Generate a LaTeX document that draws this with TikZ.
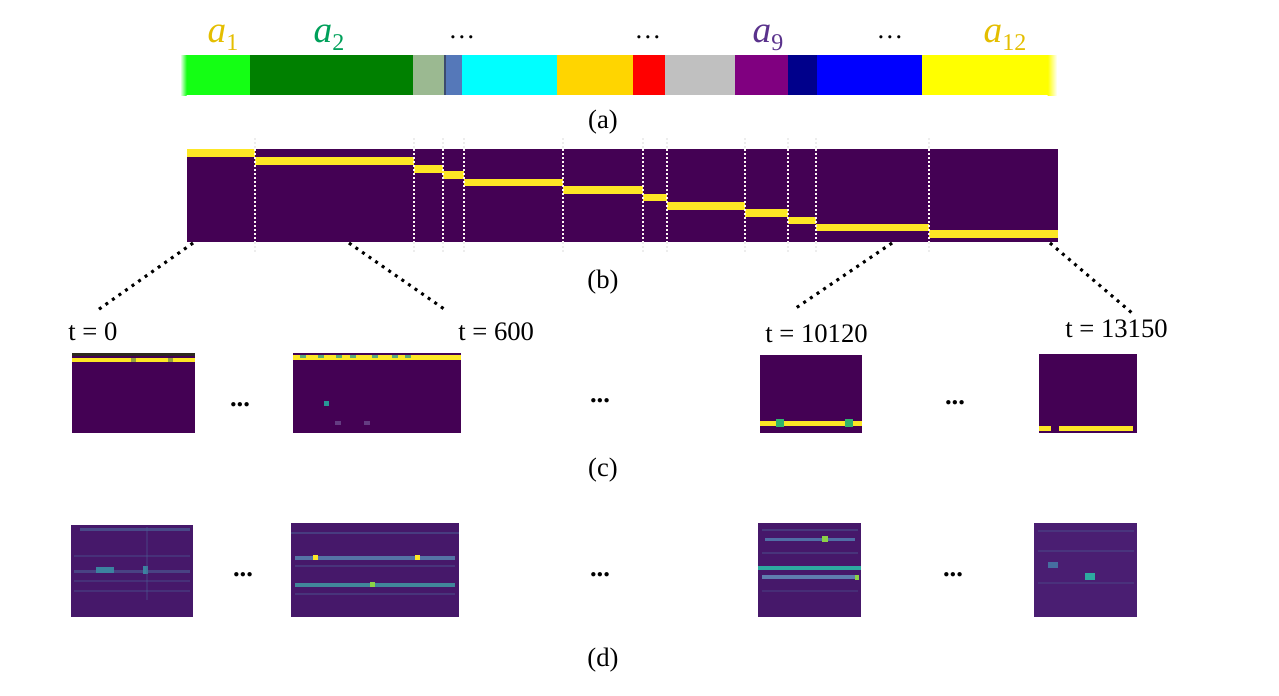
\documentclass[tikz,border=0pt]{standalone}
\usepackage{fontspec}
\setmainfont{Liberation Serif}
\definecolor{vir}{RGB}{68,1,84}
\definecolor{viry}{RGB}{253,231,37}
\definecolor{dbase}{RGB}{70,24,106}
\definecolor{dbaseb}{RGB}{74,30,114}
\definecolor{dline}{RGB}{75,95,150}
\definecolor{dcyan}{RGB}{45,170,160}
\definecolor{dgreen}{RGB}{140,210,70}
\definecolor{segA}{RGB}{20,255,20}
\definecolor{segB}{RGB}{0,128,0}
\definecolor{segC}{RGB}{155,185,145}
\definecolor{segD}{RGB}{85,120,185}
\definecolor{segE}{RGB}{0,255,255}
\definecolor{segF}{RGB}{255,213,0}
\definecolor{segG}{RGB}{255,0,0}
\definecolor{segH}{RGB}{192,192,192}
\definecolor{segI}{RGB}{128,0,128}
\definecolor{segJ}{RGB}{0,0,139}
\definecolor{segK}{RGB}{0,0,255}
\definecolor{segL}{RGB}{255,255,0}
\definecolor{segEdge}{RGB}{60,75,110}
\definecolor{laA}{RGB}{228,190,0}
\definecolor{laB}{RGB}{0,160,90}
\definecolor{laC}{RGB}{90,50,140}
\definecolor{cdark}{RGB}{45,40,30}
\definecolor{cnoise}{RGB}{150,160,60}
\definecolor{cgreen}{RGB}{90,170,120}
\definecolor{cteal}{RGB}{40,150,150}
\definecolor{cfaint}{RGB}{100,60,130}
\definecolor{cblob}{RGB}{50,180,110}
\definecolor{dblob}{RGB}{60,130,160}
\definecolor{dl1}{RGB}{85,115,165}
\definecolor{dl2}{RGB}{65,135,155}
\definecolor{dl3}{RGB}{80,110,165}
\definecolor{dl4}{RGB}{95,125,175}
\definecolor{dl5}{RGB}{70,110,160}
\newcommand{\actlab}[2]{{\itshape a}\raisebox{-0.22em}{\fontsize{18}{20}\selectfont\upshape #2}}
\begin{document}
\begin{tikzpicture}[x=0.75pt,y=-0.75pt,
  txt/.style={inner sep=0pt,font=\fontsize{20}{24}\selectfont},
  alab/.style={inner sep=0pt,anchor=base,font=\fontsize{28}{32}\selectfont},
  dots/.style={inner sep=0pt,font=\fontsize{20}{24}\selectfont\bfseries},
  conn/.style={line width=2.3pt,dash pattern=on 2.2pt off 3.8pt,black},
  sep/.style={white!85!pink,line width=1.1pt,dash pattern=on 1.5pt off 1.5pt}]
\useasboundingbox (0,0) rectangle (1279,696);

% ---------- (a) colour bar ----------
\foreach \xa/\xb/\c in {186/250/segA,250/413/segB,413/445/segC,445/462/segD,462/557/segE,557/633/segF,633/665/segG,665/735/segH,735/788/segI,788/817/segJ,817/922/segK,922/1048/segL}
  \fill[\c] (\xa,55) rectangle (\xb,95);
\shade[left color=white,right color=segA] (180,55) rectangle (186.5,95);
\shade[left color=segL,right color=white] (1047.5,55) rectangle (1057,95);
\draw[segEdge,line width=0.8pt] (445,55) -- (445,95);
\node[alab,text=laA] (a1) at (223,42) {\actlab{a}{1}};
\node[alab,text=laB] (a2) at (329,42) {\actlab{a}{2}};
\node[alab,text=laC] (a9) at (768,42) {\actlab{a}{9}};
\node[alab,text=laA] (a12) at (1005,42) {\actlab{a}{12}};
\node[txt] (ad1) at (462,37) {\ldots};
\node[txt] (ad2) at (648,37) {\ldots};
\node[txt] (ad3) at (890,37) {\ldots};
\node[txt] (la) at (603,122) {(a)};

% ---------- (b) segmentation heatmap ----------
\foreach \x in {255,414,443,464,563,643,667,745,788,816,929}
  \draw[black!7,line width=0.8pt,dash pattern=on 1.5pt off 1.5pt] (\x,138) -- (\x,252);
\fill[vir] (187,149) rectangle (1058,242);
\foreach \xa/\xb/\ya/\yb in {187/255/149/157,255/414/157/165,414/443/165/173,443/464/171/179,464/563/179/186,563/643/186/194,643/667/194/201,667/745/202/210,745/788/209/217,788/816/217/224,816/929/224/231,929/1058/230/238}
  \fill[viry] (\xa,\ya) rectangle (\xb,\yb);
\foreach \x in {255,414,443,464,563,643,667,745,788,816,929}
  \draw[sep] (\x,149) -- (\x,242);
\node[txt] (lb) at (603,282) {(b)};

\coordinate (b0) at (193,243);
\coordinate (b1) at (349,243);
\coordinate (b2) at (892,243);
\coordinate (b3) at (1050,243);

% ---------- time labels ----------
\node[txt,anchor=base west] (t0) at (68,340) {t = 0};
\node[txt,anchor=base west] (t1) at (458,340) {t = 600};
\node[txt,anchor=base west] (t2) at (765,342) {t = 10120};
\node[txt,anchor=base west] (t3) at (1065,337) {t = 13150};
\coordinate (e0) at (95,312);
\coordinate (e1) at (447,311);
\coordinate (e2) at (793,310);
\coordinate (e3) at (1132,313);
\draw[conn] (b0) -- (e0);
\draw[conn] (b1) -- (e1);
\draw[conn] (b2) -- (e2);
\draw[conn] (b3) -- (e3);

% ---------- (c) ----------
\fill[vir] (72,353) rectangle (195,433);
\fill[cdark] (72,353) rectangle (195,355.5);
\fill[viry] (72,358) rectangle (195,362);
\fill[cnoise] (131,358) rectangle (136,362);
\fill[cnoise] (168,358) rectangle (173,362);

\fill[vir] (293,353) rectangle (461,433);
\fill[viry] (293,355) rectangle (461,360);
\foreach \x in {300,318,336,350,372,392,405}
  \fill[cgreen] (\x,355) rectangle (\x+6,358);
\fill[cteal] (324,401) rectangle (329,406);
\fill[cfaint] (335,421) rectangle (341,425);
\fill[cfaint] (364,421) rectangle (370,425);

\fill[vir] (760,355) rectangle (862,433);
\fill[viry] (760,421) rectangle (862,426);
\fill[cblob] (776,419) rectangle (784,427);
\fill[cblob] (845,419) rectangle (853,427);

\fill[vir] (1039,354) rectangle (1137,433);
\fill[viry] (1039,426) rectangle (1051,431);
\fill[viry] (1059,426) rectangle (1133,431);

\node[dots] (cd1) at (240,405) {...};
\node[dots] (cd2) at (600,401) {...};
\node[dots] (cd3) at (955,403) {...};
\node[txt] (lc) at (603,470) {(c)};

% ---------- (d) ----------
\fill[dbase] (71,525) rectangle (193,617);
\fill[dline,opacity=0.7] (80,528) rectangle (190,531);
\fill[dline,opacity=0.35] (74,555) rectangle (190,557);
\fill[dline,opacity=0.6] (74,570) rectangle (190,573);
\fill[dblob] (96,567) rectangle (114,573);
\fill[dblob] (143,566) rectangle (148,574);
\fill[dline,opacity=0.35] (74,580) rectangle (190,582);
\fill[dline,opacity=0.35] (74,590) rectangle (190,592);
\fill[dline,opacity=0.3] (146,527) rectangle (148,600);

\fill[dbase] (291,523) rectangle (459,617);
\fill[dline,opacity=0.5] (291,532) rectangle (459,534);
\fill[dl1] (295,556) rectangle (455,560);
\fill[viry] (313,555) rectangle (318,560);
\fill[viry] (415,555) rectangle (420,560);
\fill[dline,opacity=0.4] (295,565) rectangle (455,567);
\fill[dl2] (295,583) rectangle (455,587);
\fill[dgreen] (370,582) rectangle (375,587);
\fill[dline,opacity=0.4] (295,593) rectangle (455,595);

\fill[dbase] (758,523) rectangle (861,617);
\fill[dline,opacity=0.45] (762,529) rectangle (858,531);
\fill[dl3] (765,538) rectangle (855,541);
\fill[dgreen] (822,536) rectangle (828,542);
\fill[dline,opacity=0.4] (762,552) rectangle (858,554);
\fill[dcyan] (758,566) rectangle (861,570);
\fill[dl4] (762,575) rectangle (858,579);
\fill[dgreen] (855,575) rectangle (859,580);
\fill[dline,opacity=0.3] (762,590) rectangle (858,592);

\fill[dbaseb] (1034,523) rectangle (1137,617);
\fill[dline,opacity=0.35] (1038,530) rectangle (1134,532);
\fill[dline,opacity=0.35] (1038,550) rectangle (1134,552);
\fill[dl5] (1048,562) rectangle (1058,568);
\fill[dcyan] (1085,573) rectangle (1095,580);
\fill[dline,opacity=0.3] (1038,582) rectangle (1134,584);

\node[dots] (dd1) at (243,575) {...};
\node[dots] (dd2) at (600,575) {...};
\node[dots] (dd3) at (953,575) {...};
\node[txt] (ld) at (603,660) {(d)};
\end{tikzpicture}
\end{document}
